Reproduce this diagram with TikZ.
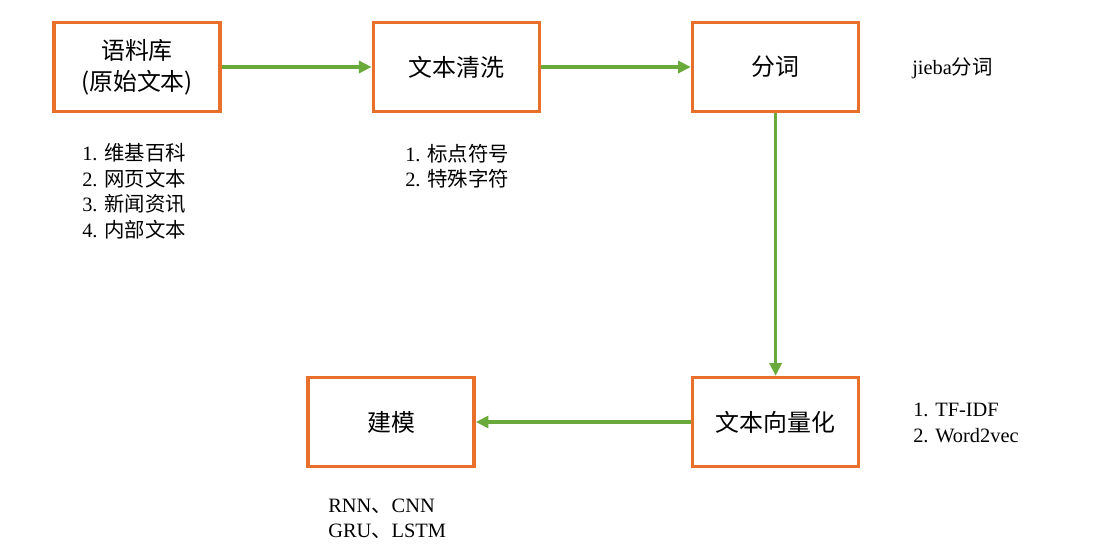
\documentclass[tikz,border=0pt]{standalone}
\usepackage{fontspec}
\usepackage{xcolor}
\setmainfont{Liberation Serif}
\newfontfamily\cjk{Noto Sans CJK SC}
\usetikzlibrary{arrows.meta,positioning}

\definecolor{boxorange}{HTML}{E8702A}
\definecolor{flowgreen}{HTML}{6AAA3A}

\tikzset{
    stage/.style={draw=boxorange,line width=2.6pt,fill=white,minimum width=4.15cm,minimum height=2.22cm,align=center,font=\cjk\fontsize{17}{22}\selectfont},
    flow/.style={draw=flowgreen,line width=2.4pt,-{Triangle[length=9pt,width=8.5pt]}},
    note/.style={anchor=west,inner sep=0pt,align=left,font=\fontsize{14.5}{18.2}\selectfont}
}

\begin{document}
\begin{tikzpicture}
    \useasboundingbox (0,0) rectangle (27.875,13.775);

    % Stages
    \node[stage] (corpus) at (3.425,12.1) {语料库\\(原始文本)};
    \node[stage] (clean) at (11.41,12.1) {文本清洗};
    \node[stage] (seg) at (19.39,12.1) {分词};
    \node[stage] (vec) at (19.39,3.225) {文本向量化};
    \node[stage] (model) at (9.775,3.225) {建模};

    % Notes
    \node[note] (corpusnote) at (2.05,8.99) {1. {\cjk 维基百科}\\2. {\cjk 网页文本}\\3. {\cjk 新闻资讯}\\4. {\cjk 内部文本}};
    \node[note] (cleannote) at (10.125,9.62) {1. {\cjk 标点符号}\\2. {\cjk 特殊字符}};
    \node[note] (segnote) at (22.8,12.075) {jieba{\cjk 分词}};
    \node[note] (vecnote) at (22.825,3.2) {1. TF-IDF\\2. Word2vec};
    \node[note] (modelnote) at (8.2,0.8) {RNN{\cjk 、}CNN\\GRU{\cjk 、}LSTM};

    % Connections
    \draw[flow] (corpus) -- (clean);
    \draw[flow] (clean) -- (seg);
    \draw[flow] (seg) -- (vec);
    \draw[flow] (vec) -- (model);
\end{tikzpicture}
\end{document}
